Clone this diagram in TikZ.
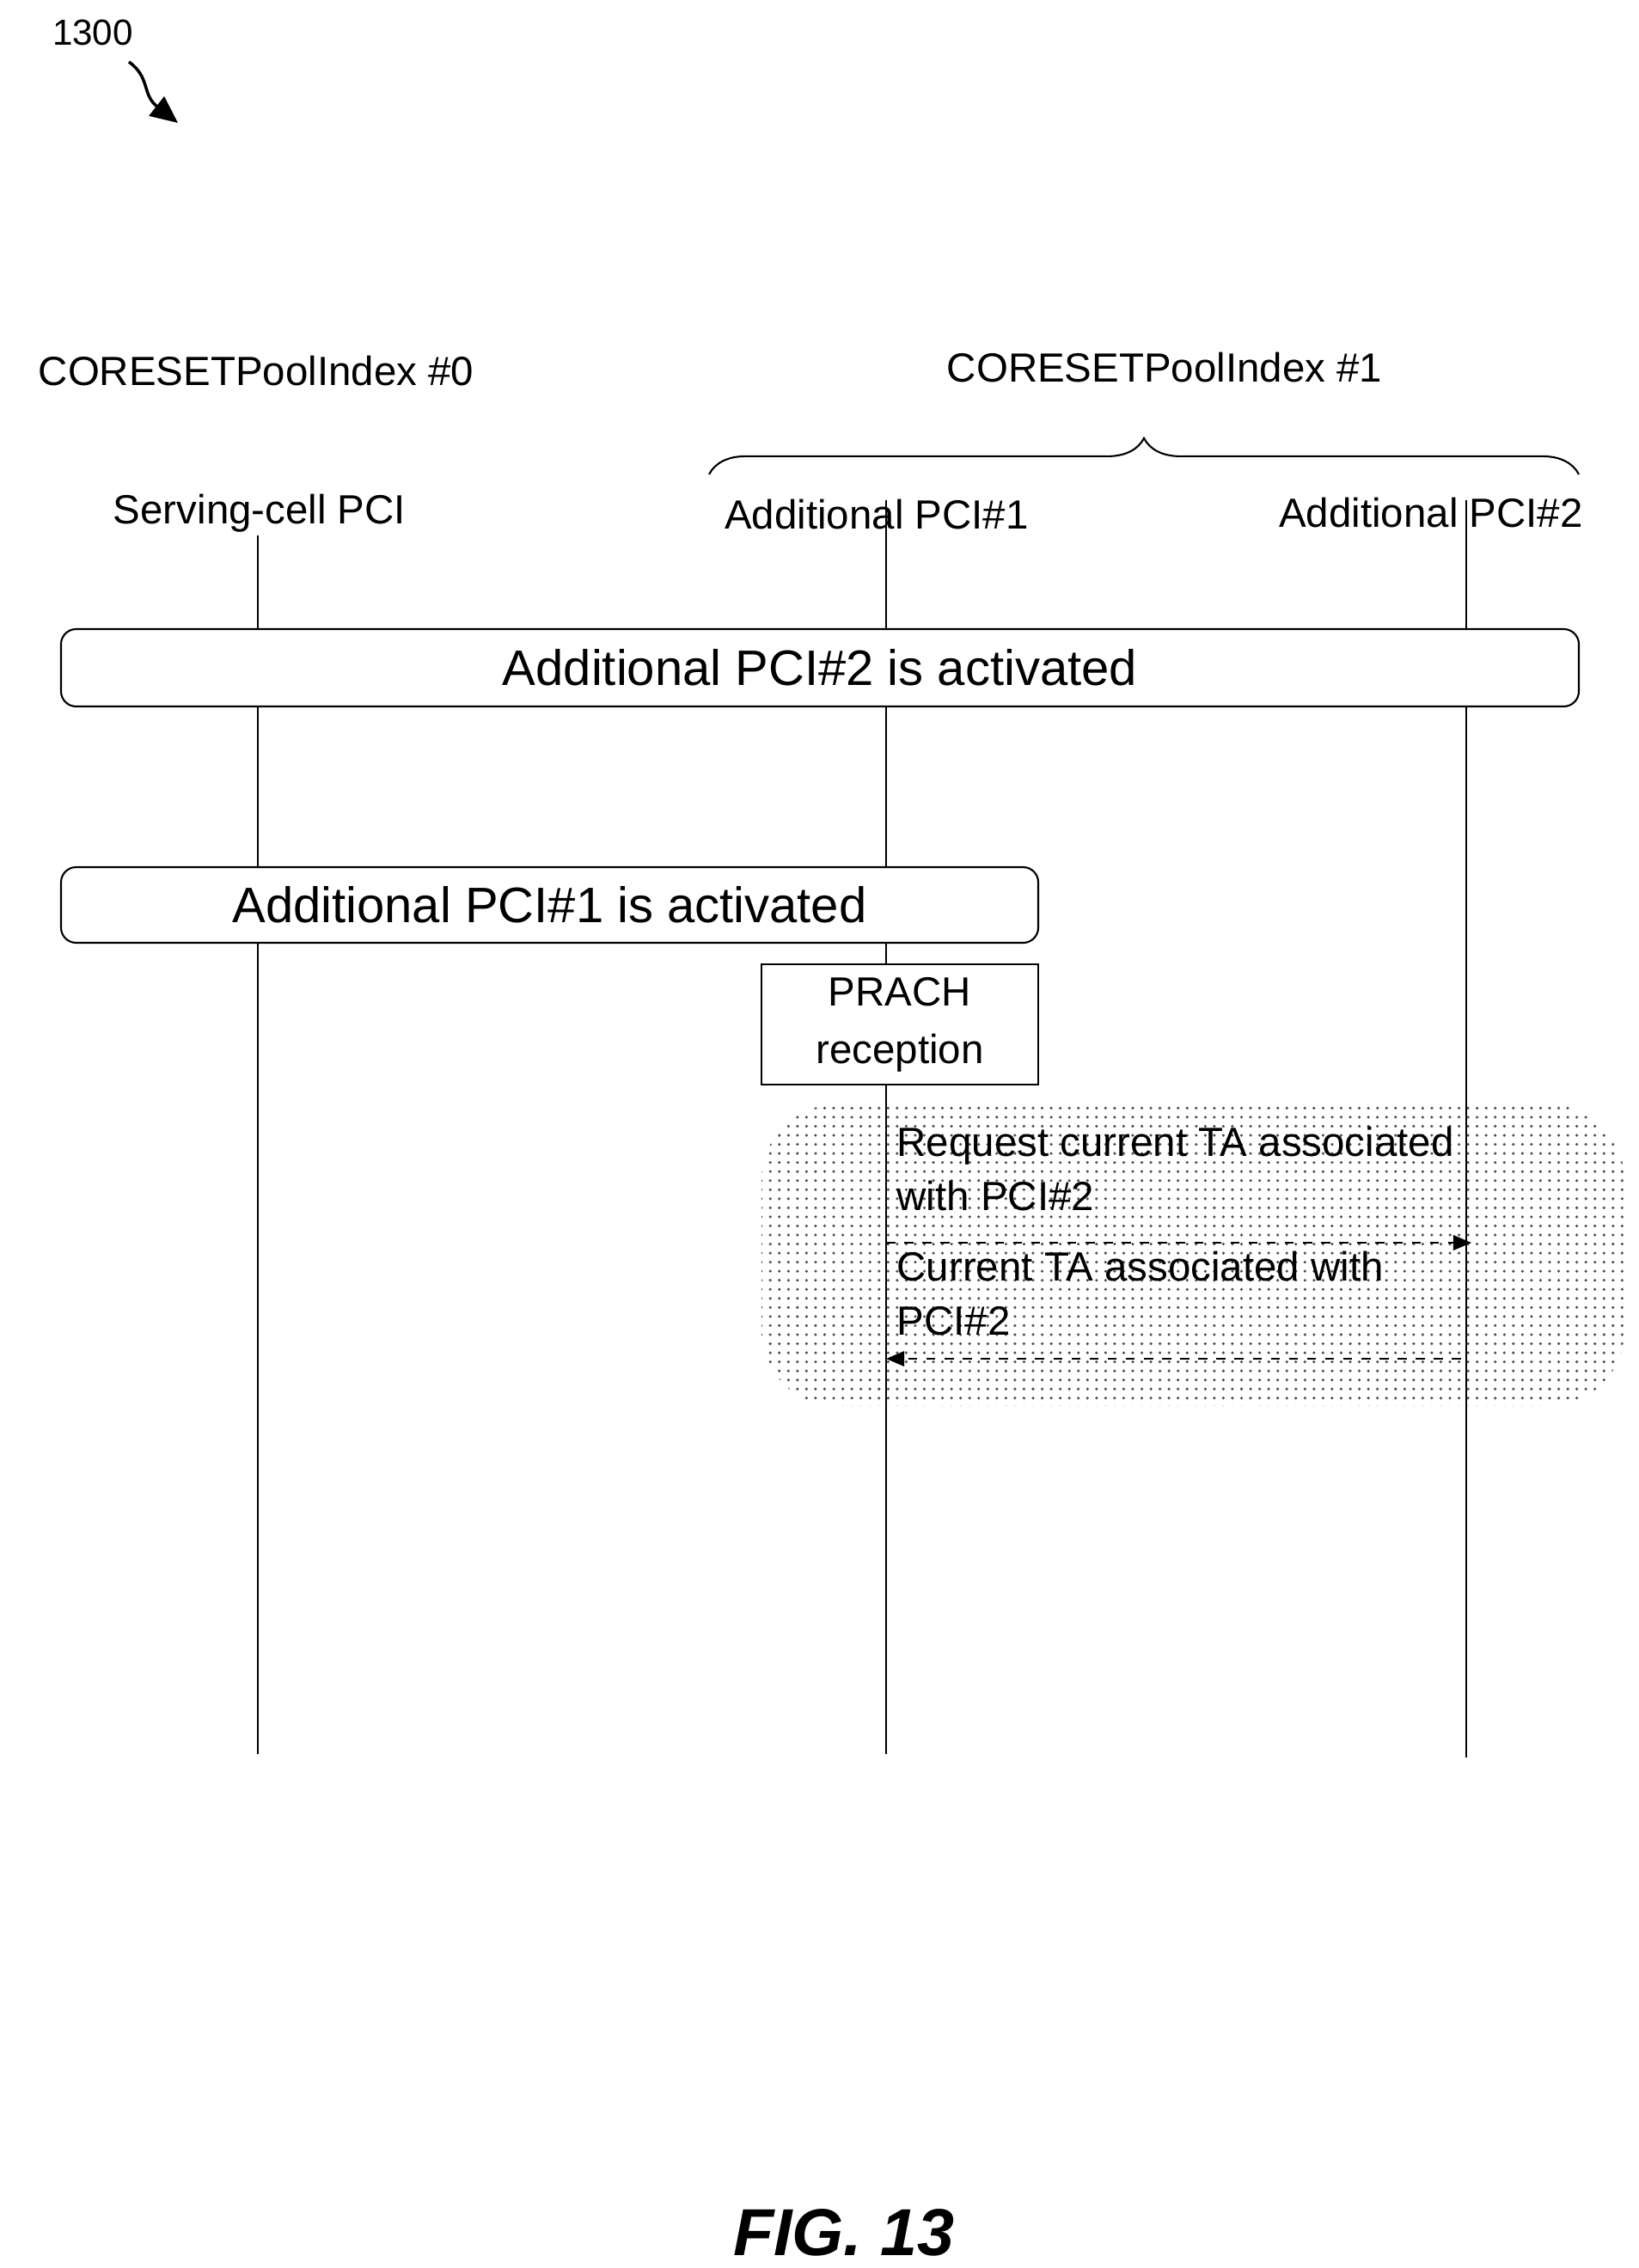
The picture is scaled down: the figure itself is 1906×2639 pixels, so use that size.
\documentclass[tikz,border=0pt]{standalone}
\usepackage{fontspec}
\setmainfont{Liberation Sans}
\usetikzlibrary{patterns,decorations.pathreplacing,arrows.meta}
\begin{document}
\begin{tikzpicture}[x=0.1mm,y=-0.1mm,
  lbl/.style={font=\fontsize{13.5}{16}\selectfont,inner sep=0pt},
  life/.style={line width=0.6pt},
  actbox/.style={draw,line width=0.6pt,rounded corners=5pt,fill=white,font=\fontsize{16.5}{19}\selectfont},
  msg/.style={font=\fontsize{13.5}{18}\selectfont,align=left,anchor=north west,inner sep=0pt},
  dasharrow/.style={dashed,line width=0.5pt,-{Triangle[length=6pt,width=5pt]}}]
\useasboundingbox (0,0) rectangle (1906,2639);
\node[font=\fontsize{12}{14}\selectfont,inner sep=0pt] (num) at (108,38) {1300};
\coordinate (cs) at (150,72);
\coordinate (ce) at (207,143);
\draw[line width=1pt,-{Triangle[length=9pt,width=8pt]}] (cs) .. controls (175,90) and (165,110) .. (ce);
\node[lbl] (p0) at (298,432) {CORESETPoolIndex \#0};
\node[lbl] (p1) at (1355,428) {CORESETPoolIndex \#1};
\coordinate (b1) at (825,552);
\coordinate (b2) at (1837,552);
\draw[line width=0.6pt,decorate,decoration={brace,amplitude=12pt}] (b1) -- (b2);
% lifelines
\coordinate (l0t) at (300,582); \coordinate (l0b) at (300,2041);
\coordinate (l1t) at (1031,582); \coordinate (l1b) at (1031,2041);
\coordinate (l2t) at (1706,582); \coordinate (l2b) at (1706,2045);
% dotted region
\path[pattern=dots,pattern color=black!70,rounded corners=25pt] (886,1285) rectangle (1890,1636);
\draw[life] (l0t) -- (l0b);
\draw[life] (l1t) -- (l1b);
\draw[life] (l2t) -- (l2b);
\node[lbl,fill=white,inner sep=1pt] (s0) at (302,597) {Serving-cell PCI};
\node[lbl] (s1) at (1020,599) {Additional PCI\#1};
\node[lbl] (s2) at (1665,597) {Additional PCI\#2};
\node[actbox,minimum width=1766*0.1mm,minimum height=90*0.1mm] (a2) at (954,777) {Additional PCI\#2 is activated};
\node[actbox,minimum width=1137*0.1mm,minimum height=88*0.1mm] (a1) at (639.5,1053) {Additional PCI\#1 is activated};
\node[draw,line width=0.6pt,fill=white,minimum width=322*0.1mm,minimum height=140*0.1mm,align=center,font=\fontsize{13.5}{19}\selectfont] (pr) at (1047,1192) {PRACH\\reception};
\node[msg] (m1) at (1043,1310) {Request current TA associated\\with PCI\#2};
\node[msg] (m2) at (1043,1455) {Current TA associated with\\PCI\#2};
\coordinate (r1a) at (1031,1446); \coordinate (r1b) at (1712,1446);
\coordinate (r2a) at (1700,1581); \coordinate (r2b) at (1031,1581);
\draw[dasharrow] (r1a) -- (r1b);
\draw[dasharrow] (r2a) -- (r2b);
\node[font=\fontsize{22}{26}\selectfont\bfseries\itshape] (fig) at (982,2598) {FIG. 13};
\end{tikzpicture}
\end{document}
